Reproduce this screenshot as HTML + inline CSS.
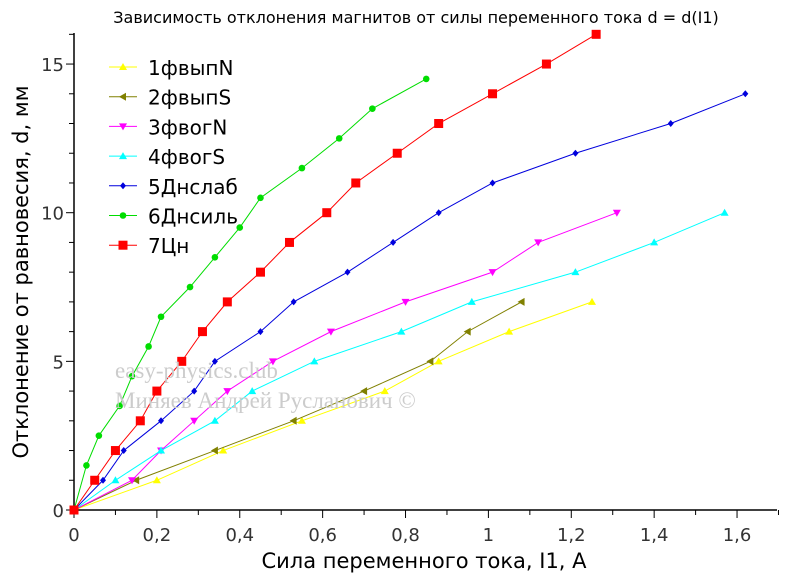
<!DOCTYPE html>
<html><head><meta charset="utf-8"><style>
body{margin:0;background:#fff;width:786px;height:577px;overflow:hidden;font-family:"Liberation Sans","DejaVu Sans",sans-serif}
svg text{font-family:"DejaVu Sans","Liberation Sans",sans-serif}
svg text.serif{font-family:"Liberation Serif","DejaVu Serif",serif}
</style></head><body>
<svg id="chart" width="786" height="577" xmlns="http://www.w3.org/2000/svg">
<text x="416" y="23" font-size="16" text-anchor="middle">Зависимость отклонения магнитов от силы переменного тока d = d(I1)</text>
<g id="axes"></g><g id="series"></g><g id="legend"></g>
<text class="serif" x="115" y="378" font-size="23" fill="#ccc">easy-physics.club</text>
<text class="serif" x="115" y="408" font-size="23" fill="#ccc">Миняев Андрей Русланович ©</text>
<text x="424" y="568" font-size="21" text-anchor="middle">Сила переменного тока, I1, А</text>
<text transform="translate(28,272) rotate(-90)" font-size="21" text-anchor="middle">Отклонение от равновесия, d, мм</text>
</svg>
<script>
const seriesNames=["1фвыпN","2фвыпS","3фвогN","4фвогS","5Днслаб","6Днсиль","7Цн"];
const colors=["#ffff00","#808000","#ff00ff","#00ffff","#0000dd","#00dd00","#ff0000"];
const markers=["up","left","down","up","diamond","circle","square"];
const s1x=[0,0.20,0.36,0.55,0.75,0.88,1.05,1.25];
const s1y=[0,1,2,3,4,5,6,7];
const s2x=[0,0.15,0.34,0.53,0.70,0.86,0.95,1.08];
const s2y=[0,1,2,3,4,5,6,7];
const s3x=[0,0.14,0.21,0.29,0.37,0.48,0.62,0.80,1.01,1.12,1.31];
const s3y=[0,1,2,3,4,5,6,7,8,9,10];
const s4x=[0,0.10,0.21,0.34,0.43,0.58,0.79,0.96,1.21,1.40,1.57];
const s4y=[0,1,2,3,4,5,6,7,8,9,10];
const s5x=[0,0.07,0.12,0.21,0.29,0.34,0.45,0.53,0.66,0.77,0.88,1.01,1.21,1.44,1.62];
const s5y=[0,1,2,3,4,5,6,7,8,9,10,11,12,13,14];
const s6x=[0,0.03,0.06,0.11,0.14,0.18,0.21,0.28,0.34,0.40,0.45,0.55,0.64,0.72,0.85];
const s6y=[0,1.5,2.5,3.5,4.5,5.5,6.5,7.5,8.5,9.5,10.5,11.5,12.5,13.5,14.5];
const s7x=[0,0.05,0.10,0.16,0.20,0.26,0.31,0.37,0.45,0.52,0.61,0.68,0.78,0.88,1.01,1.14,1.26];
const s7y=[0,1,2,3,4,5,6,7,8,9,10,11,12,13,14,15,16];
const xTicks=["0","0,2","0,4","0,6","0,8","1","1,2","1,4","1,6"];
const yTicks=["0","5","10","15"];
const XS=[s1x,s2x,s3x,s4x,s5x,s6x,s7x],YS=[s1y,s2y,s3y,s4y,s5y,s6y,s7y];
const X0=74,Y0=510,KX=414.4,KY=29.73;
const sx=v=>X0+v*KX, sy=v=>Y0-v*KY;
const NS="http://www.w3.org/2000/svg";
function mk(t,a,p){const e=document.createElementNS(NS,t);for(const k in a)e.setAttribute(k,a[k]);p.appendChild(e);return e;}
const ax=document.getElementById('axes');
let l=mk('line',{x1:X0,y1:Y0,x2:777,y2:Y0,stroke:'#000','stroke-width':1.5},ax);


l=mk('line',{x1:X0,y1:Y0,x2:X0,y2:33,stroke:'#000','stroke-width':1.5},ax);


for(let i=0;i<=17;i++){const x=sx(i*0.1);mk('line',{x1:x,y1:Y0,x2:x,y2:Y0+(i%2?5:8),stroke:'#000'},ax);}
xTicks.forEach((t,i)=>{const e=mk('text',{x:sx(i*0.2),y:Y0+31,'font-size':18,'text-anchor':'middle',fill:'#333'},ax);e.textContent=t;

});
for(let i=0;i<=16;i++){const y=sy(i);mk('line',{x1:X0,y1:y,x2:X0-(i%5?5:8),y2:y,stroke:'#000'},ax);}
yTicks.forEach((t,i)=>{const e=mk('text',{x:X0-10,y:sy(i*5)+7,'font-size':18,'text-anchor':'end',fill:'#333'},ax);e.textContent=t;

});
function marker(type,x,y,c,p){
 if(type==='square')return mk('rect',{x:x-4.5,y:y-4.5,width:9,height:9,fill:c},p);
 if(type==='circle')return mk('circle',{cx:x,cy:y,r:3.3,fill:c},p);
 if(type==='diamond')return mk('polygon',{points:`${x},${y-3.5} ${x+3},${y} ${x},${y+3.5} ${x-3},${y}`,fill:c},p);
 if(type==='up')return mk('polygon',{points:`${x},${y-4} ${x+4},${y+3} ${x-4},${y+3}`,fill:c},p);
 if(type==='down')return mk('polygon',{points:`${x},${y+4} ${x+4},${y-3} ${x-4},${y-3}`,fill:c},p);
 if(type==='left')return mk('polygon',{points:`${x-4},${y} ${x+3},${y-4} ${x+3},${y+4}`,fill:c},p);
}
const sg=document.getElementById('series');
XS.forEach((xs,k)=>{
 const g=mk('g',{},sg);
 
 
 mk('polyline',{points:xs.map((v,i)=>sx(v)+','+sy(YS[k][i])).join(' '),fill:'none',stroke:colors[k],'stroke-width':1},g);
 xs.forEach((v,i)=>{const m=marker(markers[k],sx(v),sy(YS[k][i]),colors[k],g);
 
 });
});
const lg=document.getElementById('legend');
seriesNames.forEach((n,k)=>{
 const y=67+k*29.7;
 const g=mk('g',{},lg);
 
 
 mk('line',{x1:109,y1:y,x2:137,y2:y,stroke:colors[k]},g);
 marker(markers[k],123,y,colors[k],g);
 const t=mk('text',{x:148,y:y+8,'font-size':20},g);t.textContent=n;
});
</script>
</body></html>
